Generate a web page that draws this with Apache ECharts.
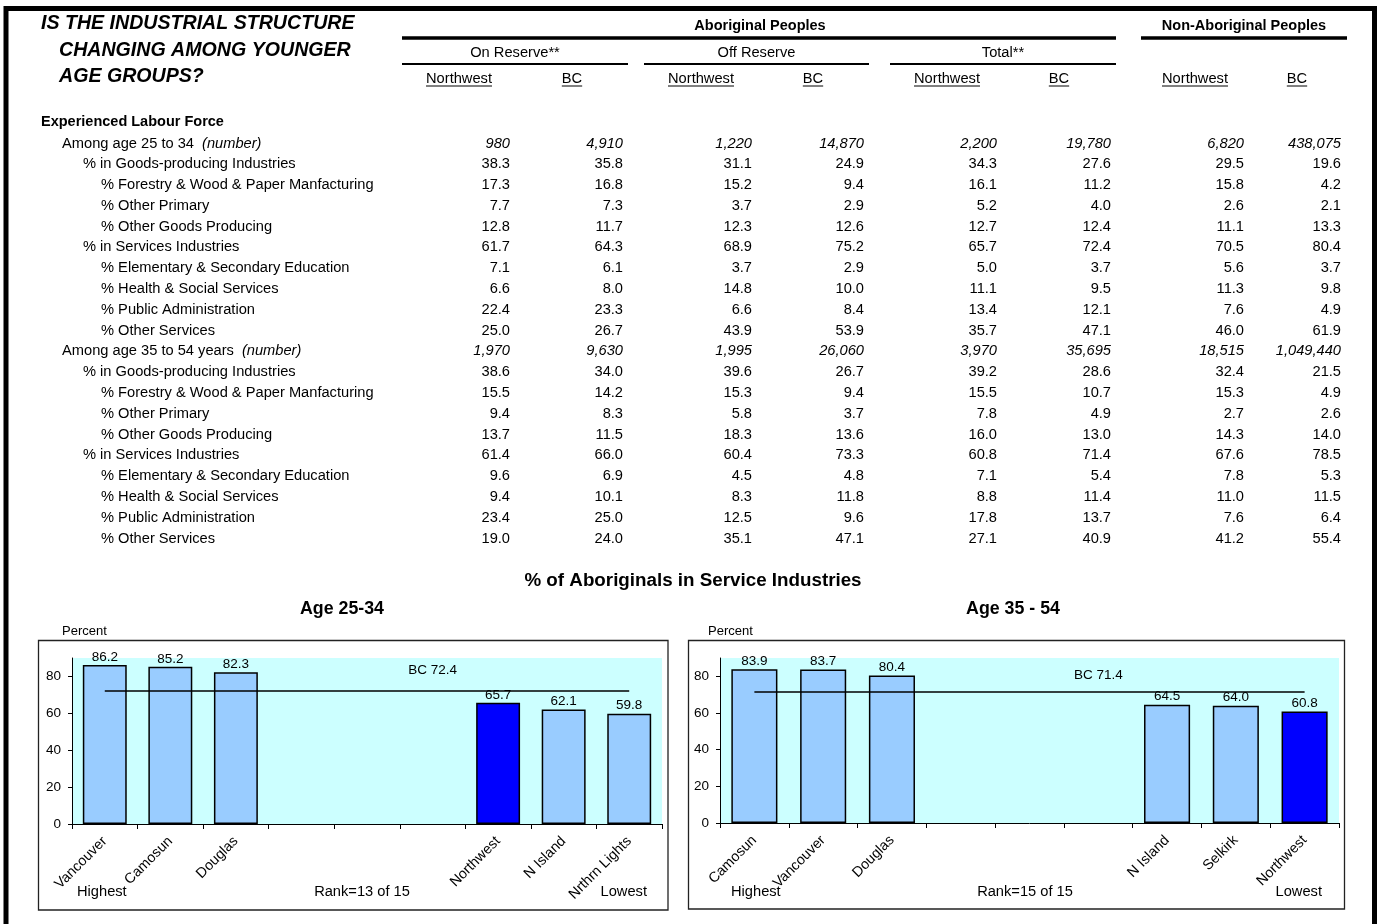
<!DOCTYPE html>
<html>
<head>
<meta charset="utf-8">
<script src="https://cdn.jsdelivr.net/npm/echarts@6/dist/echarts.min.js"></script>
<style>
html,body{margin:0;padding:0;background:#fff;}
#c{width:1378px;height:924px;}
</style>
</head>
<body>
<div id="c"></div>
<script>
// ---------------- DATA ----------------
const titleLines = ['IS THE INDUSTRIAL STRUCTURE', 'CHANGING AMONG YOUNGER', 'AGE GROUPS?'];
const sectionLabel = 'Experienced Labour Force';
const rowLabels = [
  'Among age 25 to 34|(number)',
  '% in Goods-producing Industries',
  '% Forestry & Wood & Paper Manfacturing',
  '% Other Primary',
  '% Other Goods Producing',
  '% in Services Industries',
  '% Elementary & Secondary Education',
  '% Health & Social Services',
  '% Public Administration',
  '% Other Services',
  'Among age 35 to 54 years|(number)',
  '% in Goods-producing Industries',
  '% Forestry & Wood & Paper Manfacturing',
  '% Other Primary',
  '% Other Goods Producing',
  '% in Services Industries',
  '% Elementary & Secondary Education',
  '% Health & Social Services',
  '% Public Administration',
  '% Other Services'
];
const rowLevels = [1,2,3,3,3,2,3,3,3,3, 1,2,3,3,3,2,3,3,3,3];
const countRows = [0, 10];

const onReserveNW  = [980, 38.3, 17.3, 7.7, 12.8, 61.7, 7.1, 6.6, 22.4, 25.0, 1970, 38.6, 15.5, 9.4, 13.7, 61.4, 9.6, 9.4, 23.4, 19.0];
const onReserveBC  = [4910, 35.8, 16.8, 7.3, 11.7, 64.3, 6.1, 8.0, 23.3, 26.7, 9630, 34.0, 14.2, 8.3, 11.5, 66.0, 6.9, 10.1, 25.0, 24.0];
const offReserveNW = [1220, 31.1, 15.2, 3.7, 12.3, 68.9, 3.7, 14.8, 6.6, 43.9, 1995, 39.6, 15.3, 5.8, 18.3, 60.4, 4.5, 8.3, 12.5, 35.1];
const offReserveBC = [14870, 24.9, 9.4, 2.9, 12.6, 75.2, 2.9, 10.0, 8.4, 53.9, 26060, 26.7, 9.4, 3.7, 13.6, 73.3, 4.8, 11.8, 9.6, 47.1];
const totalNW      = [2200, 34.3, 16.1, 5.2, 12.7, 65.7, 5.0, 11.1, 13.4, 35.7, 3970, 39.2, 15.5, 7.8, 16.0, 60.8, 7.1, 8.8, 17.8, 27.1];
const totalBC      = [19780, 27.6, 11.2, 4.0, 12.4, 72.4, 3.7, 9.5, 12.1, 47.1, 35695, 28.6, 10.7, 4.9, 13.0, 71.4, 5.4, 11.4, 13.7, 40.9];
const nonAbNW      = [6820, 29.5, 15.8, 2.6, 11.1, 70.5, 5.6, 11.3, 7.6, 46.0, 18515, 32.4, 15.3, 2.7, 14.3, 67.6, 7.8, 11.0, 7.6, 41.2];
const nonAbBC      = [438075, 19.6, 4.2, 2.1, 13.3, 80.4, 3.7, 9.8, 4.9, 61.9, 1049440, 21.5, 4.9, 2.6, 14.0, 78.5, 5.3, 11.5, 6.4, 55.4];

const groupHeads = ['Aboriginal Peoples', 'Non-Aboriginal Peoples'];
const subHeads = ['On Reserve**', 'Off Reserve', 'Total**'];
const colHeads = ['Northwest', 'BC', 'Northwest', 'BC', 'Northwest', 'BC', 'Northwest', 'BC'];

const chartTitle = '% of Aboriginals in Service Industries';
const chart1Title = 'Age 25-34';
const chart2Title = 'Age 35 - 54';
const cats2534 = ['Vancouver', 'Camosun', 'Douglas', '', '', '', 'Northwest', 'N Island', 'Nrthrn Lights'];
const vals2534 = [86.2, 85.2, 82.3, null, null, null, 65.7, 62.1, 59.8];
const bc2534 = 72.4;
const rank2534 = 'Rank=13 of 15';
const cats3554 = ['Camosun', 'Vancouver', 'Douglas', '', '', '', 'N Island', 'Selkirk', 'Northwest'];
const vals3554 = [83.9, 83.7, 80.4, null, null, null, 64.5, 64.0, 60.8];
const bc3554 = 71.4;
const rank3554 = 'Rank=15 of 15';
const yTicks = [0, 20, 40, 60, 80];
const highlight = 'Northwest';

// ---------------- LAYOUT ----------------
const FONT = '"Liberation Sans", Arial, Helvetica, sans-serif';
const cv = document.createElement('canvas').getContext('2d');
function measure(text, size, weight, style) {
  cv.font = `${style || 'normal'} ${weight || 'normal'} ${size}px ${FONT}`;
  return cv.measureText(text).width;
}
function T(x, y, text, o) {
  o = o || {};
  const align = o.align || 'left';
  return {
    type: 'text', x: x, y: y, silent: true, z: 10,
    style: {
      text: text, fill: '#000',
      fontSize: o.size || 14.67, fontFamily: FONT,
      fontWeight: o.weight || 'normal', fontStyle: o.style || 'normal',
      textAlign: align, align: align,
      textVerticalAlign: 'middle', verticalAlign: 'middle'
    }
  };
}
function L(x1, y1, x2, y2, w, c) {
  return { type: 'line', silent: true, z: 10, shape: { x1, y1, x2, y2 }, style: { stroke: c || '#000', lineWidth: w || 1 } };
}
function R(x, y, w, h, lw, c) {
  return { type: 'rect', silent: true, z: 1, shape: { x, y, width: w, height: h }, style: { fill: 'none', stroke: c || '#000', lineWidth: lw } };
}
function fmtCount(v) {
  return String(v).replace(/\B(?=(\d{3})+(?!\d))/g, ',');
}

const G = [];
// outer frame
G.push(R(6, 8.5, 1368.5, 940, 5, '#000'));
// title
const titleX = [41, 59, 59], titleY = [24, 51, 77];
titleLines.forEach((t, i) => G.push(T(titleX[i], titleY[i], t, { size: 19.6, weight: 'bold', style: 'italic' })));

// header
G.push(T(760, 26, groupHeads[0], { size: 14.5, weight: 'bold', align: 'center' }));
G.push(T(1244, 26, groupHeads[1], { size: 14.5, weight: 'bold', align: 'center' }));
G.push(L(402, 38, 1116, 38, 3.5));
G.push(L(1141, 38, 1347, 38, 3.5));
const subSpans = [[402, 628], [644, 869], [890, 1116]];
subHeads.forEach((s, i) => {
  const c = (subSpans[i][0] + subSpans[i][1]) / 2;
  G.push(T(c, 52.5, s, { align: 'center' }));
  G.push(L(subSpans[i][0], 64, subSpans[i][1], 64, 2));
});
const colCenters = [459, 572, 701, 813, 947, 1059, 1195, 1297];
colHeads.forEach((h, i) => {
  const w = measure(h, 14.67);
  G.push(T(colCenters[i], 78.5, h, { align: 'center' }));
  G.push(L(colCenters[i] - w / 2, 86, colCenters[i] + w / 2, 86, 1));
});

// rows
G.push(T(41, 121.5, sectionLabel, { size: 14.5, weight: 'bold' }));
const levelX = { 1: 62, 2: 83, 3: 101 };
const rowY0 = 143.5, rowStep = 20.79;
const columns = [onReserveNW, onReserveBC, offReserveNW, offReserveBC, totalNW, totalBC, nonAbNW, nonAbBC];
const colRight = [510, 623, 752, 864, 997, 1111, 1244, 1341];
rowLabels.forEach((lab, r) => {
  const y = rowY0 + r * rowStep;
  const x = levelX[rowLevels[r]];
  const parts = lab.split('|');
  G.push(T(x, y, parts[0]));
  if (parts[1]) {
    const w = measure(parts[0], 14.67);
    G.push(T(x + w + 8, y, parts[1], { style: 'italic' }));
  }
  const isCount = countRows.indexOf(r) >= 0;
  columns.forEach((col, c) => {
    const v = col[r];
    G.push(T(colRight[c], y, isCount ? fmtCount(v) : v.toFixed(1), { align: 'right', style: isCount ? 'italic' : 'normal' }));
  });
});

// chart section titles
G.push(T(693, 581, chartTitle, { size: 18.8, weight: 'bold', align: 'center' }));
G.push(T(342, 609, chart1Title, { size: 17.8, weight: 'bold', align: 'center' }));
G.push(T(1013, 609, chart2Title, { size: 17.8, weight: 'bold', align: 'center' }));

// chart boxes
G.push(R(38.5, 640.5, 629.5, 269.5, 1.3, '#222'));
G.push(R(688.5, 640.5, 656, 268.5, 1.3, '#222'));
G.push(T(62, 631.5, 'Percent', { size: 13 }));
G.push(T(708, 631.5, 'Percent', { size: 13 }));
G.push(T(77, 891.5, 'Highest', { size: 14.67 }));
G.push(T(362, 891.5, rank2534, { size: 14.67, align: 'center' }));
G.push(T(647, 891.5, 'Lowest', { size: 14.67, align: 'right' }));
G.push(T(731, 891.5, 'Highest', { size: 14.67 }));
G.push(T(1025, 891.5, rank3554, { size: 14.67, align: 'center' }));
G.push(T(1322, 891.5, 'Lowest', { size: 14.67, align: 'right' }));

// ---------------- CHARTS ----------------
function xAxisFor(gi, cats) {
  return {
    gridIndex: gi, type: 'category', data: cats,
    axisLine: { lineStyle: { color: '#000', width: 1 } },
    axisTick: { show: true, interval: 0, length: 5, lineStyle: { color: '#000' } },
    axisLabel: { interval: 0, rotate: 45, fontSize: 14.3, color: '#000', fontFamily: FONT, margin: 15 },
    splitLine: { show: false }
  };
}
function yAxisFor(gi) {
  return {
    gridIndex: gi, type: 'value', min: 0, max: 90, interval: 10,
    axisLine: { show: true, lineStyle: { color: '#000', width: 1 } },
    axisTick: { show: true, length: 4, lineStyle: { color: '#000' }, customValues: yTicks },
    axisLabel: { fontSize: 13.5, color: '#000', fontFamily: FONT, margin: 11, customValues: yTicks },
    splitLine: { show: false }
  };
}
function barSeries(gi, cats, vals, bc, bcDist) {
  return {
    type: 'bar', xAxisIndex: gi, yAxisIndex: gi,
    data: vals.map((v, i) => v == null ? null : {
      value: v,
      itemStyle: { color: cats[i] === highlight ? '#0000FF' : '#99CCFF' }
    }),
    barCategoryGap: '33%',
    itemStyle: { borderColor: '#000', borderWidth: 1.5 },
    label: {
      show: true, position: 'top', distance: 1, fontSize: 13.5, color: '#000', fontFamily: FONT,
      formatter: p => Number(p.value).toFixed(1)
    },
    markLine: {
      silent: true, symbol: 'none', animation: false,
      lineStyle: { color: '#000', width: 1.5, type: 'solid' },
      label: { show: false },
      data: [[{ coord: [0, bc] }, { coord: [cats.length - 1, bc] }]]
    },
    markPoint: {
      silent: true, animation: false, symbol: 'circle', symbolSize: 1,
      itemStyle: { color: 'rgba(0,0,0,0)' },
      label: { show: true, position: 'top', distance: bcDist, color: '#000', fontSize: 13.5, fontFamily: FONT, formatter: 'BC ' + bc },
      data: [{ coord: [5, bc], value: bc }]
    }
  };
}

const option = {
  animation: false,
  backgroundColor: '#fff',
  textStyle: { fontFamily: FONT },
  grid: [
    { left: 72, right: 1378 - 662, top: 658, bottom: 100, show: true, backgroundColor: '#CCFFFF', borderWidth: 0, containLabel: false },
    { left: 720, right: 1378 - 1339, top: 658, bottom: 101, show: true, backgroundColor: '#CCFFFF', borderWidth: 0, containLabel: false }
  ],
  xAxis: [xAxisFor(0, cats2534), xAxisFor(1, cats3554)],
  yAxis: [yAxisFor(0), yAxisFor(1)],
  series: [barSeries(0, cats2534, vals2534, bc2534, 13), barSeries(1, cats3554, vals3554, bc3554, 9)],
  graphic: { elements: G }
};

const chart = echarts.init(document.getElementById('c'), null, { renderer: 'canvas', width: 1378, height: 924 });
chart.setOption(option);
</script>
</body>
</html>
